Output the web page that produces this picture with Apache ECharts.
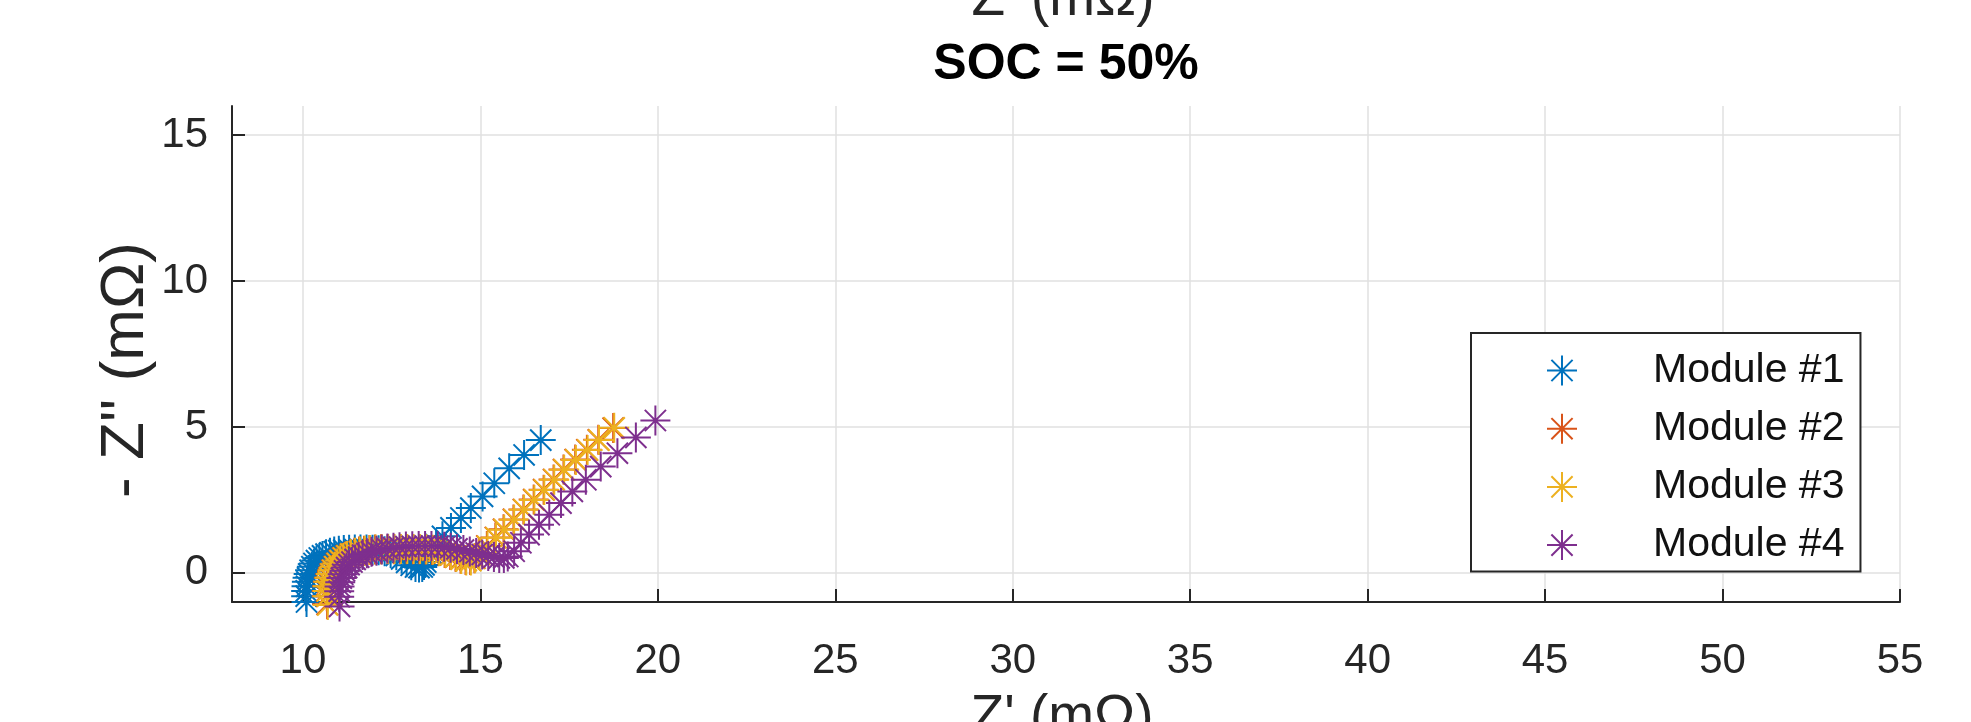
<!DOCTYPE html>
<html><head><meta charset="utf-8">
<script src="https://cdn.jsdelivr.net/npm/echarts@6/dist/echarts.min.js"></script>
<style>html,body{margin:0;padding:0;background:#fff}#c{width:1971px;height:722px}</style>
</head><body><div id="c"></div>
<script>
const seriesNames = ['Module #1', 'Module #2', 'Module #3', 'Module #4'];
const seriesColors = ['#0072BD', '#D95319', '#EDB120', '#7E2F8E'];
const xTicks = [10, 15, 20, 25, 30, 35, 40, 45, 50, 55];
const yTicks = [0, 5, 10, 15];

// Module #1  [Z' (mOhm), -Z'' (mOhm)]
const module1 = [[10.10,-1.00],[10.09,-0.80],[10.09,-0.62],[10.10,-0.46],[10.11,-0.31],[10.13,-0.17],[10.16,-0.04],[10.20,0.09],[10.25,0.21],[10.31,0.32],[10.38,0.42],[10.46,0.51],[10.55,0.58],[10.65,0.64],[10.76,0.69],[10.88,0.73],[11.01,0.76],[11.15,0.78],[11.30,0.79],[11.46,0.80],[11.62,0.80],[11.79,0.80],[11.96,0.79],[12.13,0.77],[12.30,0.74],[12.47,0.68],[12.63,0.60],[12.78,0.48],[12.92,0.36],[13.05,0.26],[13.17,0.20],[13.27,0.18],[13.36,0.20],[13.41,0.27],[13.46,0.37],[13.60,0.69],[13.75,0.97],[13.93,1.25],[14.17,1.54],[14.45,1.88],[14.73,2.22],[15.06,2.62],[15.39,3.07],[15.81,3.58],[16.23,4.04],[16.70,4.55]];
// Module #2
const module2 = [[10.68,-1.08],[10.67,-0.80],[10.67,-0.62],[10.68,-0.46],[10.70,-0.31],[10.73,-0.17],[10.77,-0.04],[10.82,0.09],[10.88,0.21],[10.95,0.32],[11.03,0.42],[11.12,0.51],[11.22,0.58],[11.33,0.64],[11.45,0.69],[11.58,0.73],[11.72,0.76],[11.87,0.78],[12.03,0.80],[12.20,0.81],[12.38,0.81],[12.56,0.81],[12.74,0.81],[12.92,0.81],[13.10,0.81],[13.28,0.81],[13.46,0.80],[13.64,0.78],[13.82,0.74],[13.99,0.68],[14.15,0.61],[14.30,0.54],[14.44,0.48],[14.58,0.44],[14.71,0.44],[14.83,0.50],[14.95,0.64],[15.18,0.92],[15.42,1.21],[15.65,1.49],[15.93,1.83],[16.21,2.17],[16.50,2.51],[16.78,2.85],[17.06,3.20],[17.34,3.54],[17.67,3.88],[18.00,4.22],[18.32,4.56],[18.74,4.96]];
// Module #3
const module3 = [[10.70,-1.10],[10.69,-0.80],[10.69,-0.62],[10.70,-0.46],[10.72,-0.31],[10.75,-0.17],[10.79,-0.04],[10.84,0.09],[10.90,0.21],[10.97,0.32],[11.05,0.42],[11.14,0.51],[11.24,0.58],[11.35,0.64],[11.47,0.69],[11.60,0.73],[11.74,0.76],[11.89,0.78],[12.05,0.80],[12.22,0.81],[12.40,0.82],[12.58,0.82],[12.76,0.82],[12.94,0.82],[13.12,0.82],[13.30,0.82],[13.48,0.81],[13.66,0.79],[13.84,0.75],[14.01,0.69],[14.17,0.62],[14.32,0.55],[14.46,0.47],[14.60,0.42],[14.73,0.42],[14.85,0.50],[14.97,0.63],[15.20,0.91],[15.44,1.20],[15.67,1.48],[15.95,1.82],[16.23,2.16],[16.52,2.50],[16.80,2.84],[17.08,3.19],[17.36,3.53],[17.69,3.87],[18.02,4.21],[18.34,4.55],[18.77,4.97]];
// Module #4
const module4 = [[11.03,-1.15],[11.02,-0.82],[11.02,-0.63],[11.03,-0.47],[11.05,-0.32],[11.08,-0.18],[11.12,-0.05],[11.17,0.07],[11.23,0.18],[11.30,0.28],[11.38,0.37],[11.47,0.46],[11.57,0.54],[11.68,0.61],[11.80,0.67],[11.93,0.72],[12.07,0.76],[12.22,0.80],[12.38,0.83],[12.55,0.86],[12.72,0.88],[12.90,0.90],[13.08,0.91],[13.26,0.92],[13.44,0.92],[13.62,0.92],[13.80,0.91],[13.98,0.89],[14.16,0.86],[14.34,0.82],[14.52,0.78],[14.70,0.73],[14.88,0.68],[15.05,0.63],[15.22,0.58],[15.38,0.54],[15.53,0.51],[15.66,0.51],[15.77,0.56],[15.95,0.74],[16.14,1.03],[16.37,1.31],[16.65,1.65],[16.94,1.99],[17.27,2.39],[17.59,2.79],[17.97,3.19],[18.39,3.64],[18.86,4.10],[19.38,4.64],[19.93,5.22]];

const seriesData = [module1, module2, module3, module4];

const STAR = 'path://M0,-1L0,1M-1,0L1,0M-0.707,-0.707L0.707,0.707M-0.707,0.707L0.707,-0.707';
const FONT = '"Liberation Sans", Arial, sans-serif';
const AX = '#262626';

const chart = echarts.init(document.getElementById('c'), null, {renderer: 'canvas'});
chart.setOption({
  animation: false,
  backgroundColor: '#ffffff',
  grid: {left: 232, right: 71, top: 106, bottom: 120, containLabel: false},
  xAxis: {
    type: 'value', min: 8, max: 55,
    axisLine: {show: true, onZero: false, lineStyle: {color: AX, width: 2}},
    axisTick: {show: true, inside: true, length: 13, lineStyle: {color: AX, width: 2}, customValues: xTicks},
    axisLabel: {customValues: xTicks, fontSize: 42, fontFamily: FONT, color: AX, margin: 38},
    splitLine: {show: true, lineStyle: {color: '#e0e0e0', width: 1.5}}
  },
  yAxis: {
    type: 'value', min: -1, max: 16,
    axisLine: {show: true, onZero: false, lineStyle: {color: AX, width: 2}},
    axisTick: {show: true, inside: true, length: 13, lineStyle: {color: AX, width: 2}, customValues: yTicks},
    axisLabel: {customValues: yTicks, fontSize: 42, fontFamily: FONT, color: AX, margin: 24},
    splitLine: {show: true, lineStyle: {color: '#e0e0e0', width: 1.5}}
  },
  legend: {
    orient: 'vertical', left: 1471, top: 333,
    padding: [17, 16, 6, 75],
    itemWidth: 30, itemHeight: 30, itemGap: 17.2,
    borderColor: AX, borderWidth: 2, backgroundColor: '#ffffff',
    selectedMode: false,
    textStyle: {fontFamily: FONT, fontSize: 41, color: '#111', lineHeight: 40, padding: [0, 0, 0, 71]},
    data: seriesNames.map((n, i) => ({name: n, icon: STAR,
      itemStyle: {color: seriesColors[i], borderColor: seriesColors[i], borderWidth: 2}}))
  },
  graphic: [
    {type: 'text', x: 1063, y: 0, style: {text: "Z' (mΩ)", font: '55px ' + FONT, fill: AX, align: 'center', verticalAlign: 'middle'}},
    {type: 'text', x: 1066, y: 65, style: {text: 'SOC = 50%', font: 'bold 50px ' + FONT, fill: '#000', align: 'center', verticalAlign: 'middle'}},
    {type: 'text', x: 1062, y: 718, style: {text: "Z' (mΩ)", font: '55px ' + FONT, fill: AX, align: 'center', verticalAlign: 'middle'}},
    {type: 'text', x: 126, y: 370, rotation: Math.PI / 2, style: {text: "- Z'' (mΩ)", font: '62px ' + FONT, fill: AX, align: 'center', verticalAlign: 'middle'}}
  ],
  series: seriesNames.map((n, i) => ({
    name: n, type: 'scatter', data: seriesData[i],
    symbol: STAR, symbolSize: 30, clip: false,
    itemStyle: {color: seriesColors[i], borderColor: seriesColors[i], borderWidth: 2, opacity: 1},
    emphasis: {disabled: true}
  }))
});
</script></body></html>
